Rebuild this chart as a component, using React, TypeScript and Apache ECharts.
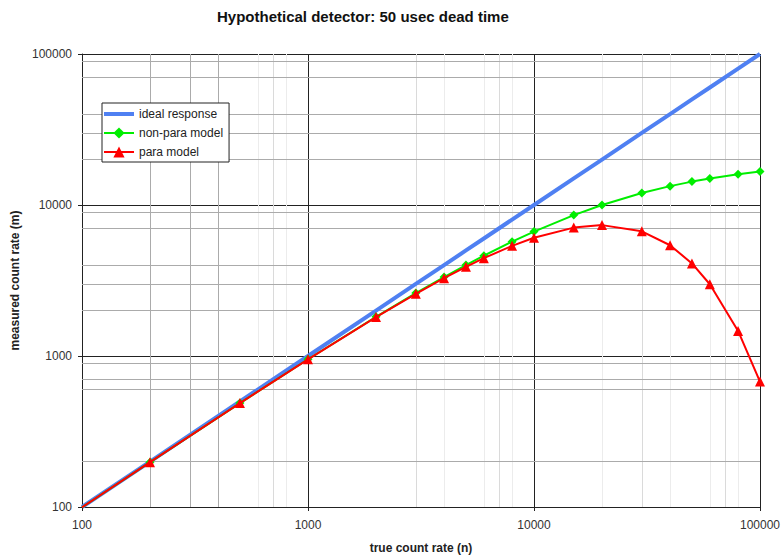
import React, { useEffect, useRef } from "react";
import * as echarts from "echarts";

// True count rates (n) where the detector response was evaluated
const trueRate = [100, 200, 500, 1000, 2000, 3000, 4000, 5000, 6000, 8000, 10000, 15000, 20000, 30000, 40000, 50000, 60000, 80000, 100000];

// Measured count rate (m) for each model
const idealResponse = [100, 200, 500, 1000, 2000, 3000, 4000, 5000, 6000, 8000, 10000, 15000, 20000, 30000, 40000, 50000, 60000, 80000, 100000];
const nonParaModel = [99.5, 198, 488, 952, 1818, 2609, 3333, 4000, 4615, 5714, 6667, 8571, 10000, 12000, 13333, 14286, 15000, 16000, 16667];
const paraModel = [99.5, 198, 488, 951, 1810, 2582, 3275, 3894, 4445, 5363, 6065, 7085, 7358, 6694, 5413, 4104, 2987, 1465, 677];

// Minor grid lines between the decades
const xMinorDark = [200, 300, 400];
const xMinorMid = [700, 3000, 7000, 30000, 70000];
const xMinorLight = [600, 800, 4000, 6000, 8000, 20000, 40000, 60000, 80000];
const yMinor = [200, 600, 700, 900, 2000, 3000, 4000, 7000, 9000, 20000, 30000, 40000, 70000, 90000];

const FONT = "'Liberation Sans', Arial, Helvetica, sans-serif";

export default function App() {
  const ref = useRef<HTMLDivElement>(null);

  useEffect(() => {
    if (!ref.current) return;
    const chart = echarts.init(ref.current, null, { renderer: "svg" });

    const pairs = (ys: number[]) => trueRate.map((x, i) => [x, ys[i]]);

    const gridLines = [
      ...xMinorDark.map((v) => ({ xAxis: v, lineStyle: { color: "#ababab" } })),
      ...xMinorMid.map((v) => ({ xAxis: v, lineStyle: { color: "#dadada" } })),
      ...xMinorLight.map((v) => ({ xAxis: v, lineStyle: { color: "#ececec" } })),
      ...yMinor.map((v) => ({ yAxis: v, lineStyle: { color: "#ababab" } })),
    ];

    const logAxis = {
      type: "log" as const,
      logBase: 10,
      min: 100,
      max: 100000,
      axisLine: { show: true, onZero: false, lineStyle: { color: "#222", width: 1 } },
      axisTick: { show: true, length: 4, lineStyle: { color: "#222" } },
      splitLine: { show: true, lineStyle: { color: "#222", width: 1 } },
      minorTick: { show: false },
      minorSplitLine: { show: false },
      nameLocation: "middle" as const,
      nameTextStyle: { fontFamily: FONT, fontSize: 12, fontWeight: "bold" as const, color: "#222" },
    };

    chart.setOption({
      animation: false,
      backgroundColor: "#fff",
      title: {
        text: "Hypothetical detector: 50 usec dead time",
        left: 212,
        top: 4,
        textStyle: { fontFamily: FONT, fontSize: 15, fontWeight: "bold", color: "#111" },
      },
      grid: { left: 82, right: 20, top: 54, bottom: 53 },
      legend: {
        orient: "vertical",
        left: 102,
        top: 103,
        z: 20,
        padding: [5, 6, 4, 1],
        itemWidth: 30,
        itemHeight: 14,
        itemGap: 7,
        borderColor: "#222",
        borderWidth: 1,
        backgroundColor: "#fff",
        textStyle: { fontFamily: FONT, fontSize: 12, color: "#222" },
        data: [
          { name: "ideal response", icon: "path://M0,0H30V4H0Z" },
          "non-para model",
          "para model",
        ],
      },
      xAxis: {
        ...logAxis,
        name: "true count rate (n)",
        nameGap: 35,
        axisLabel: {
          margin: 12,
          fontFamily: FONT,
          fontSize: 12,
          color: "#333",
          formatter: (v: number) => String(Math.round(v)),
        },
      },
      yAxis: {
        ...logAxis,
        name: "measured count rate (m)",
        nameGap: 53,
        axisLabel: {
          margin: 10,
          fontFamily: FONT,
          fontSize: 12,
          color: "#333",
          formatter: (v: number) => String(Math.round(v)),
        },
      },
      series: [
        {
          name: "grid",
          type: "line",
          data: [],
          silent: true,
          z: 1,
          markLine: {
            silent: true,
            z: 1,
            symbol: ["none", "none"],
            label: { show: false },
            lineStyle: { type: "solid", width: 1 },
            data: gridLines,
          },
        },
        {
          name: "ideal response",
          type: "line",
          data: pairs(idealResponse),
          showSymbol: false,
          symbol: "none",
          color: "#4f80f2",
          lineStyle: { color: "#4f80f2", width: 4 },
          z: 3,
        },
        {
          name: "non-para model",
          type: "line",
          data: pairs(nonParaModel),
          symbol: "diamond",
          symbolSize: 9,
          color: "#00ee00",
          itemStyle: { color: "#00ee00" },
          lineStyle: { color: "#00ee00", width: 2 },
          z: 4,
        },
        {
          name: "para model",
          type: "line",
          data: pairs(paraModel),
          symbol: "triangle",
          symbolSize: 10,
          color: "#ff0000",
          itemStyle: { color: "#ff0000" },
          lineStyle: { color: "#ff0000", width: 2 },
          z: 5,
        },
      ],
    });

    return () => chart.dispose();
  }, []);

  return (
    <div
      ref={ref}
      style={{ position: "fixed", left: 0, top: 0, width: 783, height: 560, background: "#fff" }}
    />
  );
}
